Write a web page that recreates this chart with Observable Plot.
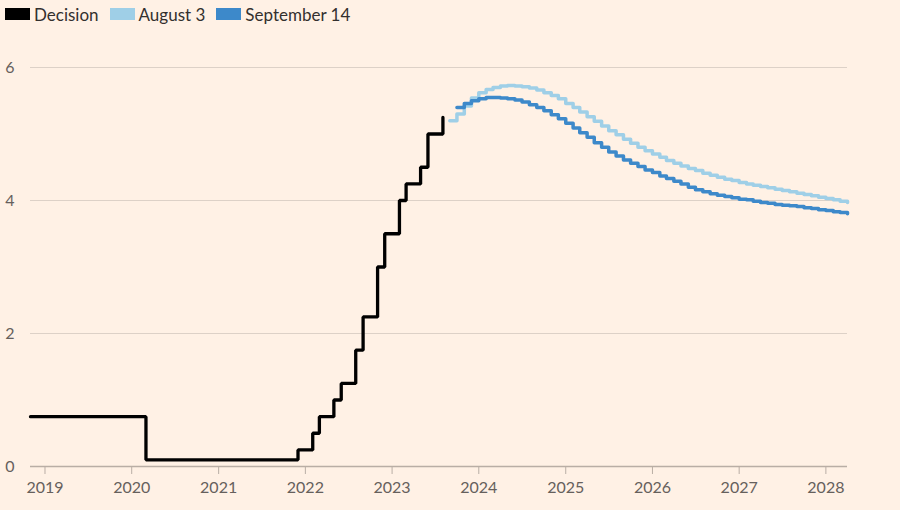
<!DOCTYPE html>
<html>
<head>
<meta charset="utf-8">
<script src="https://cdn.jsdelivr.net/npm/d3@7"></script>
<script src="https://cdn.jsdelivr.net/npm/@observablehq/plot@0.6"></script>
<style>
  html, body { margin: 0; padding: 0; background: #fff1e5; }
  body { width: 900px; height: 510px; overflow: hidden; font-family: Lato, "Open Sans", sans-serif; }
  #legend { height: 28px; display: flex; align-items: center; padding-left: 5px; font-size: 17px; color: #33302e; }
  .item { display: flex; align-items: center; margin-right: 11px; }
  .sw { width: 25px; height: 12px; margin-right: 4px; }
</style>
</head>
<body>
<div id="legend"></div>
<div id="chart"></div>
<script>
// Policy rate decisions, stepped by month (date, rate %)
const decisionDates = ["2018-11-01","2020-03-01","2021-12-01","2022-02-01","2022-03-01","2022-05-01","2022-06-01","2022-08-01","2022-09-01","2022-11-01","2022-12-01","2023-02-01","2023-03-01","2023-05-01","2023-06-01","2023-08-03"];
const decisionRates = [0.75,0.1,0.25,0.5,0.75,1.0,1.25,1.75,2.25,3.0,3.5,4.0,4.25,4.5,5.0,5.25];

// Market-implied path, monthly from September 2023
const forwardStart = "2023-09-01";
const aug3Values = [5.20,5.30,5.42,5.54,5.62,5.67,5.70,5.72,5.73,5.72,5.71,5.69,5.66,5.62,5.58,5.53,5.46,5.40,5.33,5.26,5.19,5.12,5.05,4.99,4.92,4.86,4.80,4.75,4.70,4.65,4.60,4.56,4.52,4.48,4.45,4.41,4.38,4.35,4.32,4.30,4.27,4.25,4.23,4.21,4.19,4.17,4.15,4.13,4.11,4.09,4.07,4.05,4.03,4.01,3.99,3.97];
// September 14 path starts one month later (October 2023)
const sep14Values = [null,5.40,5.46,5.50,5.53,5.55,5.55,5.54,5.53,5.51,5.48,5.44,5.40,5.35,5.29,5.23,5.16,5.09,5.02,4.95,4.87,4.80,4.73,4.67,4.61,4.56,4.51,4.46,4.42,4.37,4.33,4.29,4.25,4.20,4.16,4.13,4.10,4.08,4.06,4.04,4.02,4.01,3.99,3.97,3.96,3.94,3.93,3.92,3.91,3.89,3.88,3.86,3.85,3.83,3.82,3.80];

const seriesNames = ["Decision","August 3","September 14"];
const seriesColors = ["#000000","#9fcfe7","#3d89ca"];
const yTicks = [0,2,4,6];

const decision = decisionDates.map((d,i) => ({date: new Date(d), value: decisionRates[i]}));
const months = aug3Values.map((_, i) => d3.utcMonth.offset(new Date(forwardStart), i));
const aug3 = aug3Values.map((v,i) => ({date: months[i], value: v}));
const sep14 = sep14Values.map((v,i) => ({date: months[i], value: v})).filter(d => d.value != null);

// legend
const legend = document.getElementById("legend");
seriesNames.forEach((n,i) => {
  const it = document.createElement("div"); it.className = "item";
  const sw = document.createElement("div"); sw.className = "sw"; sw.style.background = seriesColors[i];
  const tx = document.createElement("span"); tx.textContent = n;
  it.appendChild(sw); it.appendChild(tx); legend.appendChild(it);
});

const chart = Plot.plot({
  width: 900,
  height: 482,
  marginLeft: 30,
  marginRight: 53,
  marginTop: 39,
  marginBottom: 44,
  style: {background: "#fff1e5", fontFamily: "Lato, 'Open Sans', sans-serif", fontSize: "16px", color: "#66605c"},
  x: {type: "utc", domain: [new Date("2018-11-01"), new Date("2028-04-01")]},
  y: {domain: [0, 6]},
  marks: [
    Plot.gridY(yTicks.filter(t => t > 0), {stroke: "#ddd1c7", strokeOpacity: 1, strokeWidth: 1.2}),
    Plot.axisY(yTicks, {tickSize: 0, tickPadding: 16, tickFormat: d3.format("d"), fill: "#66605c", fontSize: 16, label: null}),
    Plot.ruleY([0], {stroke: "#b9aea5", strokeWidth: 1.5}),
    Plot.axisX({ticks: d3.utcYear.every(1), tickFormat: "%Y", tickSize: 8, tickPadding: 7, stroke: "#b9aea5", fill: "#66605c", fontSize: 16, label: null}),
    Plot.line(aug3, {x: "date", y: "value", curve: "step-after", stroke: seriesColors[1], strokeWidth: 3.5}),
    Plot.line(sep14, {x: "date", y: "value", curve: "step-after", stroke: seriesColors[2], strokeWidth: 3.5}),
    Plot.line(decision, {x: "date", y: "value", curve: "step-after", stroke: seriesColors[0], strokeWidth: 3.3, strokeLinejoin: "miter"})
  ]
});
document.getElementById("chart").appendChild(chart);
</script>
</body>
</html>
